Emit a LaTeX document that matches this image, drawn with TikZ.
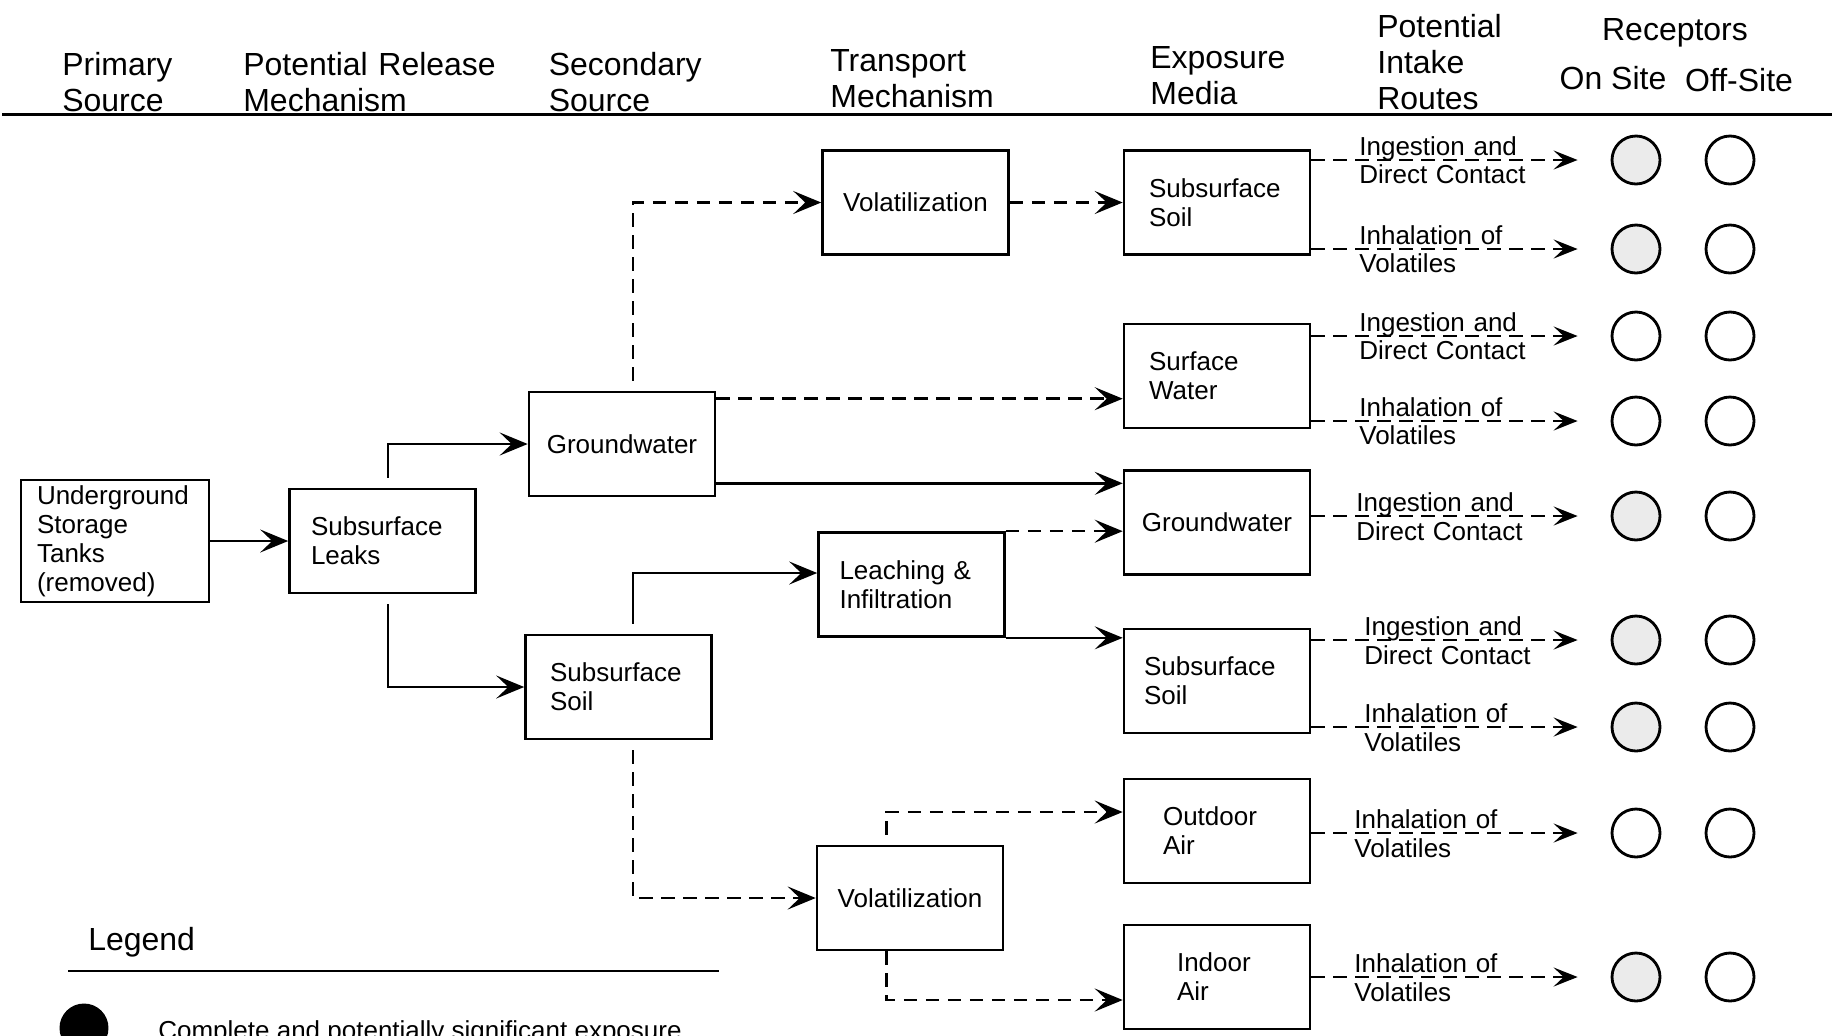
\documentclass[tikz,border=0pt]{standalone}
\usepackage{fontspec}
\setmainfont{Liberation Sans}
\usetikzlibrary{arrows.meta}

\newcommand\hdfont{\fontsize{18.2pt}{20.5pt}\selectfont}
\newcommand\bxfont{\fontsize{14.8pt}{16.5pt}\selectfont}
\newcommand\ingest{Ingestion and\\Direct Contact}
\newcommand\inhale{Inhalation of\\Volatiles}

\begin{document}
\begin{tikzpicture}[x=0.02cm,y=-0.02cm,
  >={Stealth[length=0.56cm,width=0.46cm,inset=0.24cm]},
  box/.style={draw,line width=1.5pt,minimum width=3.72cm,minimum height=2.08cm,inner sep=0pt,font=\bxfont},
  lbox/.style={box,align=left,text width=#1},
  flow/.style={->,line width=1.4pt},
  dflow/.style={flow,dash pattern=on 0.27cm off 0.17cm},
  route/.style={dflow,-{Stealth[length=0.48cm,width=0.38cm,inset=0.2cm]}},
  hdr/.style={font=\hdfont,align=left,text width=6cm,inner sep=0pt,anchor=base west},
  lbl/.style={font=\bxfont,align=left,text width=4cm,inner sep=0pt,anchor=base west},
  rcpt/.style={circle,draw,line width=1.6pt,minimum size=0.96cm,inner sep=0pt}]

\useasboundingbox (0,0) rectangle (1834,1035);
\clip (0,0) rectangle (1834,1035);

% column heads
\node[hdr] at (62,75) {Primary\\Source};
\node[hdr] at (243,75) {Potential Release\\Mechanism};
\node[hdr] at (548.5,75) {Secondary\\Source};
\node[hdr] at (830,71.5) {Transport\\Mechanism};
\node[hdr] at (1150,68) {Exposure\\Media};
\node[hdr] at (1377,37.5) {Potential\\Intake\\Routes};
\node[font=\hdfont,inner sep=0pt,anchor=base] at (1675,40) {Receptors};
\node[font=\hdfont,inner sep=0pt,anchor=base] at (1613,89) {On Site};
\node[font=\hdfont,inner sep=0pt,anchor=base] at (1739,91) {Off-Site};
\draw[line width=1.8pt] (2,114.5) -- (1832,114.5);

% boxes
\node[lbox=3.12cm,minimum width=3.76cm,minimum height=2.44cm] (ust) at (115,541) {Underground\\Storage\\Tanks\\(removed)};
\node[lbox=2.86cm] (leaks) at (382.5,541) {Subsurface\\Leaks};
\node[box] (gw2) at (622,444) {Groundwater};
\node[lbox=2.74cm] (ss2) at (618.5,687) {Subsurface\\Soil};
\node[box] (vol1) at (915.5,202.5) {Volatilization};
\node[lbox=2.88cm] (leach) at (911.5,584.5) {Leaching \&\\Infiltration};
\node[box] (vol2) at (910,898) {Volatilization};
\node[lbox=2.72cm] (soilA) at (1217,202.5) {Subsurface\\Soil};
\node[lbox=2.72cm] (water) at (1217,376) {Surface\\Water};
\node[box] (gwB) at (1217,522.5) {Groundwater};
\node[lbox=2.92cm] (soilB) at (1217,681) {Subsurface\\Soil};
\node[lbox=2.16cm] (outair) at (1217,831) {Outdoor\\Air};
\node[lbox=1.6cm] (inair) at (1217,977) {Indoor\\Air};

% pathways
\draw[flow] (ust) -- (leaks);
\draw[flow,shorten <=0.2cm] ([xshift=0.11cm]leaks.north) |- (gw2.west);
\draw[flow,shorten <=0.2cm] ([xshift=0.11cm]leaks.south) |- (ss2.west);
\draw[dflow,shorten <=0.2cm] ([xshift=0.22cm]gw2.north) |- (vol1.west);
\draw[dflow] (vol1) -- (soilA);
\draw[dflow] ([yshift=-0.16cm]gw2.north east) coordinate (w1) -- (w1 -| water.west);
\draw[flow] ([yshift=0.28cm]gw2.south east) coordinate (g1) -- (g1 -| gwB.west);
\draw[flow,shorten <=0.2cm] ([xshift=0.29cm]ss2.north) |- ([yshift=0.23cm]leach.west);
\draw[dflow] (leach.north east) -- (leach.north east -| gwB.west);
\draw[flow] (leach.south east) -- (leach.south east -| soilB.west);
\draw[dflow,shorten <=0.2cm] ([xshift=0.29cm]ss2.south) |- (vol2.west);
\draw[dflow,shorten <=0.2cm] ([xshift=-0.47cm]vol2.north) |- ([yshift=0.38cm]outair.west);
\draw[dflow] ([xshift=-0.47cm]vol2.south) |- ([yshift=-0.46cm]inair.west);

% intake routes and receptors
\foreach \src/\yy/\lab/\fc/\lx [count=\i] in
  {soilA/160/\ingest/black!8/1359, soilA/249/\inhale/black!8/1359,
   water/336/\ingest/white/1359, water/421/\inhale/white/1359,
   gwB/516/\ingest/black!8/1356, soilB/640/\ingest/black!8/1364,
   soilB/727/\inhale/black!8/1364, outair/833/\inhale/white/1354,
   inair/977/\inhale/black!8/1354}
{
  \node[rcpt,fill=\fc] (on\i) at (1636,\yy) {};
  \node[rcpt] (off\i) at (1730,\yy) {};
  \draw[route,shorten >=0.66cm] (\src.east |- on\i) -- (on\i);
  \node[lbl] at (\lx,\yy-5) {\lab};
}

% legend
\node[font=\hdfont,inner sep=0pt,anchor=base west] at (88,950) {Legend};
\draw[line width=1.1pt] (68,971) -- (719,971);
\node[circle,fill=black,minimum size=0.98cm,inner sep=0pt] (key) at (84,1028) {};
\node[font=\bxfont,inner sep=0pt,anchor=base west] at (158,1039) {Complete and potentially significant exposure};
\end{tikzpicture}
\end{document}
